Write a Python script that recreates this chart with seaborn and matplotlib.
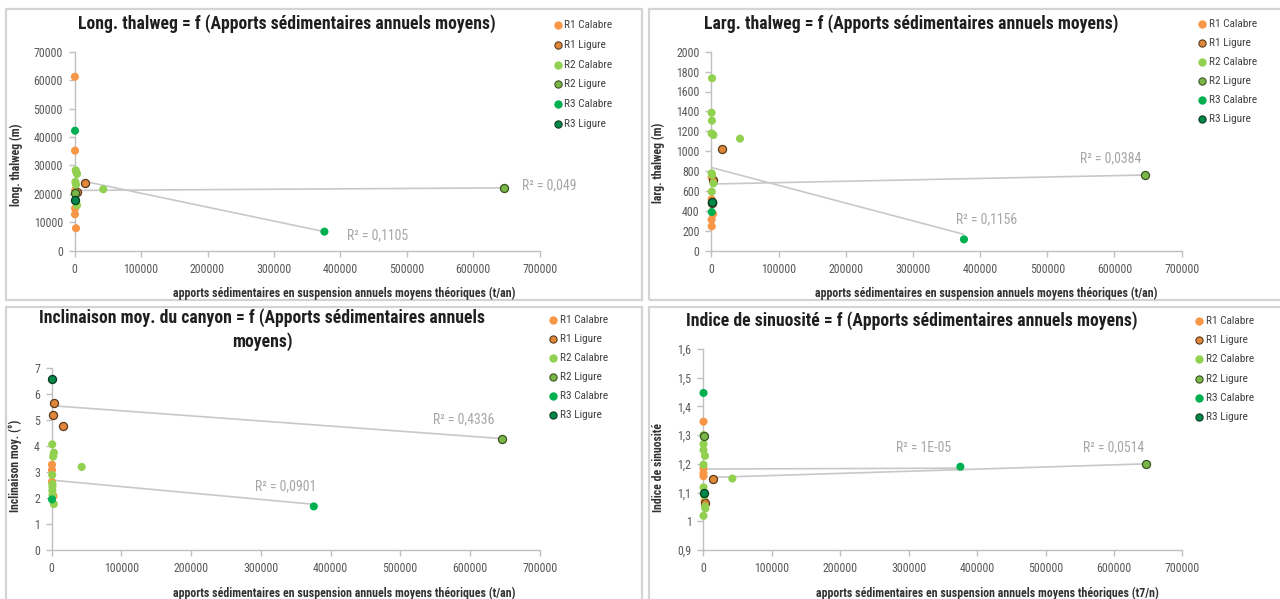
import numpy as np
import pandas as pd
import seaborn as sns
import matplotlib
matplotlib.use("Agg")
import matplotlib.pyplot as plt
from matplotlib import font_manager
from matplotlib.lines import Line2D
from matplotlib.patches import Rectangle
from matplotlib.ticker import FuncFormatter, MultipleLocator

# ---------------- data ----------------
SERIES = ["R1 Calabre", "R1 Ligure", "R2 Calabre", "R2 Ligure", "R3 Calabre", "R3 Ligure"]

# Panel 1 : long. thalweg (m)
p1_r1c_x = [300, 500, 800, 600, 400, 2000]
p1_r1c_y = [61200, 35200, 21300, 14900, 12800, 7900]
p1_r1l_x = [15500, 3000]
p1_r1l_y = [23900, 20600]
p1_r2c_x = [1500, 2500, 3500, 1000, 2000, 1200, 3500, 43000]
p1_r2c_y = [28300, 27600, 27000, 24200, 23200, 19900, 16000, 21600]
p1_r2l_x = [1000, 646000]
p1_r2l_y = [20200, 22100]
p1_r3c_x = [500, 1500, 376000]
p1_r3c_y = [42200, 17500, 6700]
p1_r3l_x = [500]
p1_r3l_y = [18000]
p1_trend_a_x = [0, 646000]
p1_trend_a_y = [21200, 22100]
p1_trend_b_x = [16600, 376000]
p1_trend_b_y = [24300, 6700]

# Panel 2 : larg. thalweg (m)
p2_r1c_x = [300, 400, 2500, 300, 500]
p2_r1c_y = [740, 517, 369, 312, 245]
p2_r1l_x = [15800, 2500, 1000]
p2_r1l_y = [1019, 706, 476]
p2_r2c_x = [1000, 300, 800, 300, 3000, 42600, 300, 1000, 3000, 500]
p2_r2c_y = [1733, 1387, 1307, 1180, 1163, 1126, 778, 761, 677, 593]
p2_r2l_x = [800, 646000]
p2_r2l_y = [490, 761]
p2_r3c_x = [500, 376000]
p2_r3c_y = [389, 114]
p2_r3l_x = [500]
p2_r3l_y = [486]
p2_trend_a_x = [0, 646000]
p2_trend_a_y = [670, 761]
p2_trend_b_x = [0, 375600]
p2_trend_b_y = [836, 165]

# Panel 3 : inclinaison moy. (°)
p3_r1c_x = [300, 300, 300, 2500]
p3_r1c_y = [3.29, 3.08, 2.63, 2.08]
p3_r1l_x = [2500, 1200, 15600]
p3_r1l_y = [5.68, 5.2, 4.79]
p3_r2c_x = [600, 3000, 2000, 42900, 600, 1000, 800, 800, 1000, 3000]
p3_r2c_y = [4.07, 3.75, 3.6, 3.2, 2.89, 2.54, 2.44, 2.29, 2.12, 1.77]
p3_r2l_x = [646700]
p3_r2l_y = [4.29]
p3_r3c_x = [300, 376000]
p3_r3c_y = [1.95, 1.68]
p3_r3l_x = [300]
p3_r3l_y = [6.59]
p3_trend_a_x = [0, 646700]
p3_trend_a_y = [5.56, 4.29]
p3_trend_b_x = [0, 376000]
p3_trend_b_y = [2.69, 1.76]

# Panel 4 : indice de sinuosité
p4_r1c_x = [300, 300, 300, 300, 2000]
p4_r1c_y = [1.347, 1.184, 1.168, 1.157, 1.07]
p4_r1l_x = [14600, 2500]
p4_r1l_y = [1.149, 1.062]
p4_r2c_x = [300, 300, 300, 2500, 300, 42400, 300, 2500, 3000, 300, 1500]
p4_r2c_y = [1.30, 1.269, 1.248, 1.228, 1.197, 1.149, 1.118, 1.051, 1.045, 1.019, 1.09]
p4_r2l_x = [1500, 646400]
p4_r2l_y = [1.298, 1.2]
p4_r3c_x = [300, 375600]
p4_r3c_y = [1.447, 1.19]
p4_r3l_x = [300]
p4_r3l_y = [1.10]
p4_trend_a_x = [0, 375600]
p4_trend_a_y = [1.182, 1.185]
p4_trend_b_x = [14600, 646400]
p4_trend_b_y = [1.153, 1.2]

titles = [
    "Long. thalweg = f (Apports sédimentaires annuels moyens)",
    "Larg. thalweg = f (Apports sédimentaires annuels moyens)",
    "Inclinaison moy. du canyon = f (Apports sédimentaires annuels\nmoyens)",
    "Indice de sinuosité = f (Apports sédimentaires annuels moyens)",
]
ylabels = ["long. thalweg (m)", "larg. thalweg (m)", "Inclinaison moy. (°)", "Indice de sinuosité"]
xlabels = [
    "apports sédimentaires en suspension annuels moyens théoriques (t/an)",
    "apports sédimentaires en suspension annuels moyens théoriques (t/an)",
    "apports sédimentaires en suspension annuels moyens théoriques (t/an)",
    "apports sédimentaires en suspension annuels moyens théoriques (t7/n)",
]
r2_labels = [["R² = 0,049", "R² = 0,1105"], ["R² = 0,0384", "R² = 0,1156"],
             ["R² = 0,4336", "R² = 0,0901"], ["R² = 1E-05", "R² = 0,0514"]]
ylims = [(0, 70000), (0, 2000), (0, 7), (0.9, 1.6)]
ysteps = [10000, 200, 1, 0.1]

# ---------------- styling ----------------
sns.set_theme(style="white")
names = {f.name for f in font_manager.fontManager.ttflist}
FONT = next((c for c in ["Liberation Sans Narrow", "DejaVu Sans Condensed", "Roboto Condensed",
                         "Open Sans Condensed", "Liberation Sans"] if c in names), "DejaVu Sans")
plt.rcParams["font.family"] = [FONT, "DejaVu Sans"]

colors = {"R1 Calabre": "#F79646", "R1 Ligure": "#E0883A", "R2 Calabre": "#92D050",
          "R2 Ligure": "#7AB648", "R3 Calabre": "#00B050", "R3 Ligure": "#00884A"}
edges = {"R1 Calabre": "none", "R1 Ligure": "#5A3A1E", "R2 Calabre": "none",
         "R2 Ligure": "#3A5424", "R3 Calabre": "none", "R3 Ligure": "#0D3B22"}

W, H = 1280, 599
fig = plt.figure(figsize=(12.8, 5.99), dpi=100)
renderer = fig.canvas.get_renderer()


def fx(x):
    return x / W


def fy(y):
    return 1 - y / H


def size_for(text, width, weight="normal", base=10):
    t = fig.text(0, 0, text, fontsize=base, fontweight=weight)
    w = t.get_window_extent(renderer=renderer).width
    t.remove()
    return base * width / w


tick_fs = size_for("700000", 34.7)
leg_fs = size_for("R1 Calabre", 48)
title_fs = size_for(titles[0], 417, "bold")
xlab_fs = size_for(xlabels[0], 341, "bold")
ylab_fs = size_for(ylabels[0], 82.7, "bold")
r2_fs = size_for("R² = 0,049", 54.3)

# panel frames (pixels)
frames = [(6, 9.5, 642, 300), (649, 9.5, 1282, 300), (6, 307, 642, 602), (649, 307, 1282, 602)]
for (x0, y0, x1, y1) in frames:
    fig.add_artist(Rectangle((fx(x0), fy(y1)), fx(x1 - x0), (y1 - y0) / H, transform=fig.transFigure,
                             fill=False, edgecolor="#D4D4D4", linewidth=1.6))

# axes rectangles (pixels: left, right, top, bottom)
axrects = [(74.7, 539.6, 51.7, 250.7), (711.4, 1181.6, 51.7, 250.7),
           (51.8, 539.6, 368.3, 550), (703.3, 1182.4, 349, 550)]

panel_data = [
    [(p1_r1c_x, p1_r1c_y), (p1_r1l_x, p1_r1l_y), (p1_r2c_x, p1_r2c_y), (p1_r2l_x, p1_r2l_y), (p1_r3c_x, p1_r3c_y), (p1_r3l_x, p1_r3l_y)],
    [(p2_r1c_x, p2_r1c_y), (p2_r1l_x, p2_r1l_y), (p2_r2c_x, p2_r2c_y), (p2_r2l_x, p2_r2l_y), (p2_r3c_x, p2_r3c_y), (p2_r3l_x, p2_r3l_y)],
    [(p3_r1c_x, p3_r1c_y), (p3_r1l_x, p3_r1l_y), (p3_r2c_x, p3_r2c_y), (p3_r2l_x, p3_r2l_y), (p3_r3c_x, p3_r3c_y), (p3_r3l_x, p3_r3l_y)],
    [(p4_r1c_x, p4_r1c_y), (p4_r1l_x, p4_r1l_y), (p4_r2c_x, p4_r2c_y), (p4_r2l_x, p4_r2l_y), (p4_r3c_x, p4_r3c_y), (p4_r3l_x, p4_r3l_y)],
]
trends = [
    [(p1_trend_a_x, p1_trend_a_y), (p1_trend_b_x, p1_trend_b_y)],
    [(p2_trend_a_x, p2_trend_a_y), (p2_trend_b_x, p2_trend_b_y)],
    [(p3_trend_a_x, p3_trend_a_y), (p3_trend_b_x, p3_trend_b_y)],
    [(p4_trend_a_x, p4_trend_a_y), (p4_trend_b_x, p4_trend_b_y)],
]

# text positions (pixels)
title_pos = [(287, 24), (911, 24), (262, 330), (911.5, 320.7)]
ylab_pos = [(16, 165), (658, 163), (15.5, 466), (658, 467)]
xlab_pos = [(344, 293), (986, 293), (344, 593), (987, 593)]
leg_pos = [(558, 24.7, 19.9), (1202.4, 24, 19.0), (553, 320, 19.0), (1199, 321, 19.2)]
r2_pos = [[(549.5, 185), (377.5, 235.7)], [(1111, 158.3), (986.7, 219.3)],
          [(463.3, 419.3), (285.3, 486)], [(923.6, 448.3), (1113.4, 447.7)]]


def yfmt(v, pos):
    s = f"{v:.1f}".rstrip("0").rstrip(".") if abs(v - round(v)) > 1e-9 else f"{int(round(v))}"
    return s.replace(".", ",")


for i in range(4):
    l, r, t, b = axrects[i]
    ax = fig.add_axes([fx(l), fy(b), (r - l) / W, (b - t) / H])
    ax.set_facecolor("none")
    for (tx, ty) in trends[i]:
        sns.lineplot(x=tx, y=ty, ax=ax, color="#C8C8C8", linewidth=1.2, zorder=2, legend=False)
    for name, (xs, ys) in zip(SERIES, panel_data[i]):
        df = pd.DataFrame({"x": xs, "y": ys})
        sns.scatterplot(data=df, x="x", y="y", ax=ax, color=colors[name], edgecolor=edges[name],
                        linewidth=0.9 if edges[name] != "none" else 0, s=34, zorder=3,
                        clip_on=False, legend=False)
    ax.set_xlim(0, 700000)
    ax.set_ylim(*ylims[i])
    ax.xaxis.set_major_locator(MultipleLocator(100000))
    ax.yaxis.set_major_locator(MultipleLocator(ysteps[i]))
    ax.xaxis.set_major_formatter(FuncFormatter(lambda v, p: f"{int(round(v))}"))
    ax.yaxis.set_major_formatter(FuncFormatter(yfmt))
    ax.set_xlabel("")
    ax.set_ylabel("")
    for side in ["top", "right"]:
        ax.spines[side].set_visible(False)
    for side in ["left", "bottom"]:
        ax.spines[side].set_color("#C0C0C0")
        ax.spines[side].set_linewidth(1.0)
    ax.tick_params(axis="both", direction="out", length=4, width=1, color="#C0C0C0",
                   labelcolor="#595959", labelsize=tick_fs, left=True, bottom=True)
    ax.tick_params(axis="x", pad=4.5)
    ax.tick_params(axis="y", pad=4.5)

    tx_, ty_ = title_pos[i]
    fig.text(fx(tx_), fy(ty_), titles[i], ha="center", va="center", fontsize=title_fs,
             fontweight="bold", color="#1F1F1F", linespacing=1.35)
    fig.text(fx(xlab_pos[i][0]), fy(xlab_pos[i][1]), xlabels[i], ha="center", va="center",
             fontsize=xlab_fs, fontweight="bold", color="#333333")
    fig.text(fx(ylab_pos[i][0]), fy(ylab_pos[i][1]), ylabels[i], ha="center", va="center",
             rotation=90, fontsize=ylab_fs, fontweight="bold", color="#333333")
    lx, ly, ld = leg_pos[i]
    for k, name in enumerate(SERIES):
        yy = ly + k * ld
        fig.add_artist(Line2D([fx(lx)], [fy(yy)], transform=fig.transFigure, marker="o",
                              markersize=5.2, color=colors[name],
                              markeredgecolor=edges[name] if edges[name] != "none" else colors[name],
                              markeredgewidth=0.8, linestyle="none"))
        fig.text(fx(lx + 6.5), fy(yy), name, ha="left", va="center", fontsize=leg_fs, color="#404040")
    for txt, (px, py) in zip(r2_labels[i], r2_pos[i]):
        fig.text(fx(px), fy(py), txt, ha="center", va="center", fontsize=r2_fs, color="#A6A6A6")

fig.savefig("out.png", dpi=100, facecolor="white")
